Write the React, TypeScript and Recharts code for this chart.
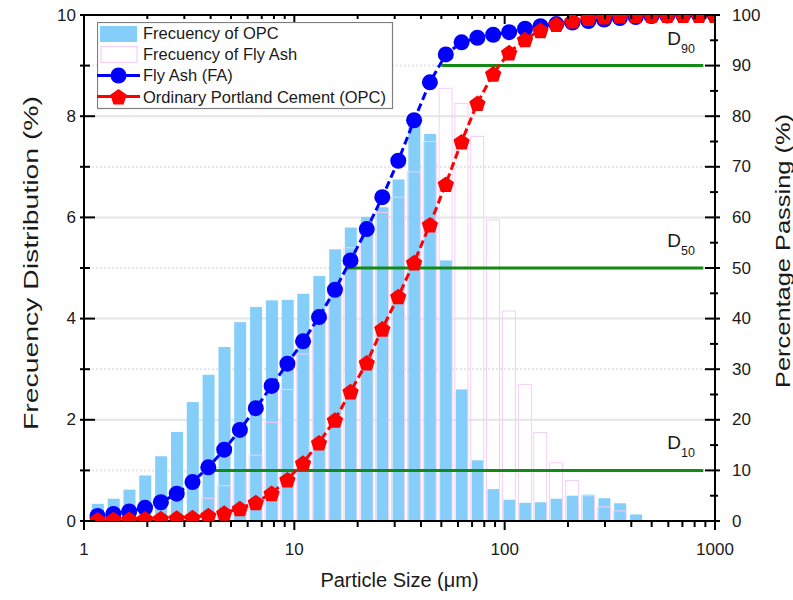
import React from 'react';
import { ComposedChart, Bar, Line, XAxis, YAxis, CartesianGrid, ReferenceLine, Legend } from 'recharts';

// ---------- data ----------
const particleSizes = [
  1.16, 1.38, 1.64, 1.95, 2.32, 2.76, 3.28, 3.9, 4.64, 5.51,
  6.56, 7.8, 9.27, 11.0, 13.1, 15.6, 18.5, 22.1, 26.2, 31.2,
  37.1, 44.1, 52.5, 62.4, 74.2, 88.2, 105, 125, 148, 176,
  210, 250, 297, 353, 420, 499, 593, 706, 839, 998,
];
const opcFrequency = [
  0.34, 0.44, 0.62, 0.9, 1.28, 1.76, 2.35, 2.89, 3.44, 3.93,
  4.23, 4.36, 4.37, 4.49, 4.84, 5.37, 5.8, 6.01, 6.2, 6.75,
  7.9, 7.65, 5.15, 2.6, 1.2, 0.63, 0.42, 0.36, 0.37, 0.44,
  0.5, 0.52, 0.45, 0.35, 0.13,
];
const flyAshFrequency = [
  0.1, 0.1, 0.05, 0.1, 0.05, 0.1, 0.15, 0.45, 0.7, 1.0,
  1.3, 1.95, 2.6, 3.3, 4.0, 4.6, 5.4, 5.8, 6.1, 6.4,
  6.9, 7.5, 8.55, 8.25, 7.6, 5.95, 4.15, 2.7, 1.75, 1.15,
  0.8, 0.5, 0.28, 0.2, 0,
];
const flyAshPassing = [
  1.0, 1.4, 1.9, 2.6, 3.7, 5.4, 7.7, 10.6, 14.1, 18.0,
  22.3, 26.7, 31.1, 35.5, 40.3, 45.7, 51.5, 57.7, 64.0, 71.2,
  79.2, 86.7, 92.2, 94.6, 95.5, 96.1, 96.6, 97.3, 97.8, 98.2,
  98.5, 98.8, 99.1, 99.4, 99.6, 99.8, 99.9, 100, 100, 100,
];
const opcPassing = [
  0.3, 0.35, 0.4, 0.45, 0.5, 0.6, 0.7, 1.1, 1.6, 2.5,
  3.7, 5.5, 8.2, 11.5, 15.5, 20.0, 25.6, 31.3, 38.0, 44.4,
  51.1, 58.6, 66.6, 75.0, 82.6, 88.4, 92.6, 95.2, 97.0, 98.2,
  98.9, 99.4, 99.7, 99.9, 100, 100, 100, 100, 100, 100,
];
const xTicks = [1, 2, 3, 4, 5, 6, 7, 8, 9, 10, 20, 30, 40, 50, 60, 70, 80, 90, 100, 200, 300, 400, 500, 600, 700, 800, 900, 1000];
const xTickLabels = [1, 10, 100, 1000];
const leftTicks = [0, 1, 2, 3, 4, 5, 6, 7, 8, 9, 10];
const rightTicks = [0, 5, 10, 15, 20, 25, 30, 35, 40, 45, 50, 55, 60, 65, 70, 75, 80, 85, 90, 95, 100];
const solidGrid = [2, 4, 6, 8];
const dottedGrid = [1, 3, 5, 7, 9];
const dLevels = [90, 50, 10];
const dStarts = [50, 17.5, 3.9];
const dEnd = 880;
const legendLabels = ['Frecuency of OPC', 'Frecuency of Fly Ash', 'Fly Ash (FA)', 'Ordinary Portland Cement (OPC)'];

const data = particleSizes.map((size, i) => ({
  size,
  opcFreq: i < opcFrequency.length ? opcFrequency[i] : null,
  faFreq: i < flyAshFrequency.length ? flyAshFrequency[i] : null,
  fa: flyAshPassing[i],
  opc: opcPassing[i],
}));

// ---------- styles ----------
const FONT = '"Liberation Sans", Arial, Helvetica, sans-serif';
const TXT = '#1a1a1a';
const OPC_BAR = '#84CEF9';
const FA_STROKE = '#F4CFF8';
const BLUE = '#0000FF';
const RED = '#FF0000';
const GREEN = '#138A13';

const pentagonPoints = (cx: number, cy: number, r: number) => {
  const pts: string[] = [];
  for (let k = 0; k < 5; k++) {
    const a = -Math.PI / 2 + (k * 2 * Math.PI) / 5;
    pts.push(`${cx + r * Math.cos(a)},${cy + r * Math.sin(a)}`);
  }
  return pts.join(' ');
};

const renderCircle = (p: any) => {
  if (p.cx == null || p.cy == null) return <g key={`c${p.index}`} />;
  return <circle key={`c${p.index}`} cx={p.cx} cy={p.cy} r={8} fill={BLUE} />;
};
const renderPentagon = (p: any) => {
  if (p.cx == null || p.cy == null) return <g key={`p${p.index}`} />;
  return <polygon key={`p${p.index}`} points={pentagonPoints(p.cx, p.cy + 1, 8.6)} fill={RED} />;
};

const OpcBarShape = (p: any) => {
  const { x, y, width, height } = p;
  if (!height || height <= 0) return <g />;
  const c = x + width / 2;
  return <rect x={c - 6} y={y} width={12} height={height} fill={OPC_BAR} />;
};
const FaBarShape = (p: any) => {
  const { x, y, width, height } = p;
  if (!height || height <= 0) return <g />;
  const c = x + width / 2;
  return <rect x={c - 6.5} y={y} width={13} height={height} fill="none" stroke={FA_STROKE} strokeWidth={1} />;
};

const LeftTick = (p: any) => {
  const { x, y, payload } = p;
  const v = payload.value;
  const major = v % 2 === 0;
  return (
    <g>
      <line x1={x - 4} x2={x + (major ? 11 : 6)} y1={y} y2={y} stroke="#000" strokeWidth={2} />
      {major && (
        <text x={x - 8} y={y} textAnchor="end" dominantBaseline="central" fontSize={17} fontFamily={FONT} fill={TXT}>
          {v}
        </text>
      )}
    </g>
  );
};
const RightTick = (p: any) => {
  const { x, y, payload } = p;
  const v = payload.value;
  const major = v % 10 === 0;
  return (
    <g>
      <line x1={x - (major ? 10 : 5)} x2={x + (major ? 5 : 3)} y1={y} y2={y} stroke="#000" strokeWidth={2} />
      {major && (
        <text x={x + 17} y={y} textAnchor="start" dominantBaseline="central" fontSize={17} fontFamily={FONT} fill={TXT}>
          {v}
        </text>
      )}
    </g>
  );
};
const BottomTick = (p: any) => {
  const { x, y, payload } = p;
  const v = payload.value;
  const major = xTickLabels.includes(v);
  return (
    <g>
      <line x1={x} x2={x} y1={y} y2={y + (major ? 9 : 6)} stroke="#000" strokeWidth={2} />
      {major && (
        <text x={x} y={y + 28} textAnchor="middle" dominantBaseline="central" fontSize={17} fontFamily={FONT} fill={TXT}>
          {v}
        </text>
      )}
    </g>
  );
};
const TopTick = (p: any) => {
  const { x, y, payload } = p;
  const major = xTickLabels.includes(payload.value);
  return <line x1={x} x2={x} y1={y} y2={y + (major ? 9 : 4)} stroke="#000" strokeWidth={2} />;
};

const LegendBox = () => (
  <svg width={297} height={88} style={{ display: 'block' }}>
    <rect x={0.5} y={0.5} width={295} height={86} fill="#fff" stroke="#808080" strokeWidth={1.2} />
    <rect x={3} y={4} width={37} height={16} fill={OPC_BAR} />
    <rect x={4} y={24.5} width={36} height={16} fill="none" stroke={FA_STROKE} strokeWidth={1.2} />
    <line x1={0} x2={43} y1={53.5} y2={53.5} stroke={BLUE} strokeWidth={3} />
    <circle cx={21.5} cy={53.5} r={8} fill={BLUE} />
    <line x1={0} x2={43} y1={74.5} y2={74.5} stroke={RED} strokeWidth={3} />
    <polygon points={pentagonPoints(21.5, 75.5, 8.6)} fill={RED} />
    {legendLabels.map((t, i) => (
      <text key={t} x={46} y={11 + i * 21.2} dominantBaseline="central" fontSize={16.5} fontFamily={FONT} fill={TXT}>
        {t}
      </text>
    ))}
  </svg>
);

const dLabel = (name: string) => (p: any) => {
  const vb = p.viewBox || {};
  const right = (vb.x ?? 0) + (vb.width ?? 0);
  const yy = vb.y ?? 0;
  return (
    <text x={right - 36} y={yy - 21} fontFamily={FONT} fill={TXT}>
      <tspan fontSize={19}>D</tspan>
      <tspan fontSize={12.5} dy={8}>{name}</tspan>
    </text>
  );
};

const leftTitle = (p: any) => {
  const vb = p.viewBox || {};
  const cx = (vb.x ?? 0) + 30;
  const cy = (vb.y ?? 0) + (vb.height ?? 0) / 2 - 5;
  return (
    <text
      x={cx}
      y={cy}
      transform={`rotate(-90 ${cx} ${cy})`}
      textAnchor="middle"
      dominantBaseline="central"
      fontSize={21}
      fontFamily={FONT}
      fill={TXT}
      textLength={334}
      lengthAdjust="spacingAndGlyphs"
    >
      Frecuency Distribution (%)
    </text>
  );
};
const rightTitle = (p: any) => {
  const vb = p.viewBox || {};
  const cx = (vb.x ?? 0) + 67;
  const cy = (vb.y ?? 0) + (vb.height ?? 0) / 2 - 17;
  return (
    <text
      x={cx}
      y={cy}
      transform={`rotate(-90 ${cx} ${cy})`}
      textAnchor="middle"
      dominantBaseline="central"
      fontSize={21}
      fontFamily={FONT}
      fill={TXT}
      textLength={274}
      lengthAdjust="spacingAndGlyphs"
    >
      Percentage Passing (%)
    </text>
  );
};
const bottomTitle = (p: any) => {
  const vb = p.viewBox || {};
  const cx = (vb.x ?? 0) + (vb.width ?? 0) / 2 + 0;
  const cy = (vb.y ?? 0) + 59;
  return (
    <text x={cx} y={cy} textAnchor="middle" dominantBaseline="central" fontSize={20} fontFamily={FONT} fill={TXT}>
      Particle Size (μm)
    </text>
  );
};

export default function App() {
  return (
    <div style={{ position: 'absolute', left: 0, top: 0, width: 793, height: 600, background: '#fff' }}>
      <ComposedChart width={793} height={600} data={data} margin={{ top: 0, right: 0, bottom: 0, left: 0 }}>
        <XAxis
          xAxisId="x"
          dataKey="size"
          type="number"
          scale="log"
          domain={[1, 1000]}
          allowDataOverflow
          ticks={xTicks}
          interval={0}
          height={79}
          tickSize={0}
          tickMargin={0}
          tickLine={false}
          tick={<BottomTick />}
          axisLine={{ stroke: '#000', strokeWidth: 2 }}
          label={{ content: bottomTitle }}
        />
        <XAxis
          xAxisId="top"
          orientation="top"
          dataKey="size"
          type="number"
          scale="log"
          domain={[1, 1000]}
          allowDataOverflow
          ticks={xTicks}
          interval={0}
          height={15}
          tickSize={0}
          tickMargin={0}
          tickLine={false}
          tick={<TopTick />}
          axisLine={{ stroke: '#000', strokeWidth: 2 }}
        />
        <YAxis
          yAxisId="left"
          orientation="left"
          type="number"
          domain={[0, 10]}
          ticks={leftTicks}
          interval={0}
          width={84}
          tickSize={0}
          tickMargin={0}
          tickLine={false}
          tick={<LeftTick />}
          axisLine={{ stroke: '#000', strokeWidth: 2 }}
          label={{ content: leftTitle }}
        />
        <YAxis
          yAxisId="right"
          orientation="right"
          type="number"
          domain={[0, 100]}
          allowDataOverflow
          ticks={rightTicks}
          interval={0}
          width={78}
          tickSize={0}
          tickMargin={0}
          tickLine={false}
          tick={<RightTick />}
          axisLine={{ stroke: '#000', strokeWidth: 2 }}
          label={{ content: rightTitle }}
        />
        <CartesianGrid xAxisId="x" yAxisId="left" vertical={false} horizontalValues={solidGrid} stroke="#E5E5E5" strokeWidth={2} />
        <CartesianGrid xAxisId="x" yAxisId="left" vertical={false} horizontalValues={dottedGrid} stroke="#E5E5E5" strokeWidth={2} strokeDasharray="2 2" />
        <Bar xAxisId="x" yAxisId="left" dataKey="opcFreq" barSize={12} shape={<OpcBarShape />} isAnimationActive={false} />
        <Bar xAxisId="top" yAxisId="left" dataKey="faFreq" barSize={13} shape={<FaBarShape />} isAnimationActive={false} />
        {dLevels.map((lvl, i) => (
          <ReferenceLine
            key={`d${lvl}`}
            xAxisId="x"
            yAxisId="right"
            segment={[{ x: dStarts[i], y: lvl }, { x: dEnd, y: lvl }]}
            stroke={GREEN}
            strokeWidth={3}
            label={{ content: dLabel(String(lvl)) }}
          />
        ))}
        <Line
          xAxisId="x"
          yAxisId="right"
          type="linear"
          dataKey="fa"
          stroke={BLUE}
          strokeWidth={3}
          strokeDasharray="8 4"
          dot={renderCircle}
          activeDot={false}
          isAnimationActive={false}
        />
        <Line
          xAxisId="x"
          yAxisId="right"
          type="linear"
          dataKey="opc"
          stroke={RED}
          strokeWidth={3}
          strokeDasharray="8 4"
          dot={renderPentagon}
          activeDot={false}
          isAnimationActive={false}
        />
        <Legend
          layout="vertical"
          align="center"
          verticalAlign="middle"
          content={() => <LegendBox />}
          wrapperStyle={{ left: 97, top: 22, width: 297, height: 88 }}
        />
      </ComposedChart>
    </div>
  );
}
